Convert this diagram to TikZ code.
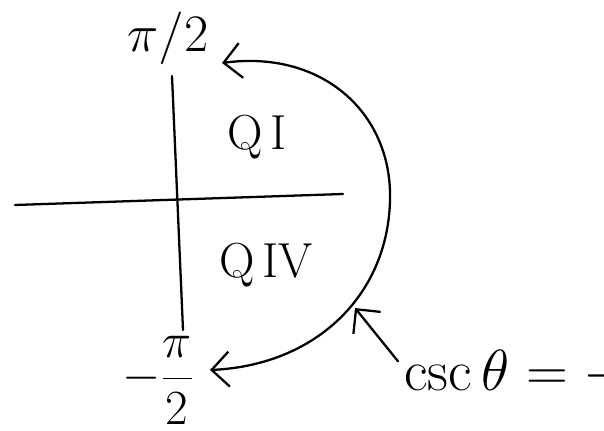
\RequirePackage{fix-cm}
\documentclass[tikz,border=0pt]{standalone}
\usetikzlibrary{arrows.meta}

\begin{document}
\begin{tikzpicture}[x=0.02cm,y=-0.02cm,line cap=round,line join=round,
  pen/.style={line width=1.3pt},
  barb/.style={-{Straight Barb[length=3.5mm,width=7mm,line width=1.3pt]}},
  label/.style={font=\fontsize{28}{30}\selectfont,inner sep=0pt}]
  \useasboundingbox (0,0) rectangle (604,431);
  \clip (0,0) rectangle (604,431);
  % axes
  \draw[pen] (15,205) -- (343,194);
  \draw[pen] (172,76) -- (183,330);
  % pi/2 labels
  \node[label,font=\fontsize{30}{32}\selectfont] (top) at (168,38) {$\pi/2$};
  \node[label] (bottom) at (158,380) {$\displaystyle-\frac{\pi}{2}$};
  % quadrants
  \node[label] (q1) at (257,137) {Q\,I};
  \node[label] (q4) at (266,265) {Q\,IV};
  % arc, both ends
  \coordinate (arctop) at (222,63);
  \coordinate (arcright) at (390,192);
  \coordinate (arcbot) at (210,370);
  \draw[pen,barb] (arcright) .. controls (388,110) and (320,50) .. (arctop);
  \draw[pen,barb] (arcright) .. controls (392,290) and (320,365) .. (arcbot);
  % csc label with pointer
  \node[label,font=\fontsize{33}{35}\selectfont,anchor=base west] (csc) at (404,391) {$\csc\theta = -$};
  \coordinate (tip) at (355,308);
  \draw[pen,barb] (csc.west) ++(-6,-12) -- (tip);
\end{tikzpicture}
\end{document}
